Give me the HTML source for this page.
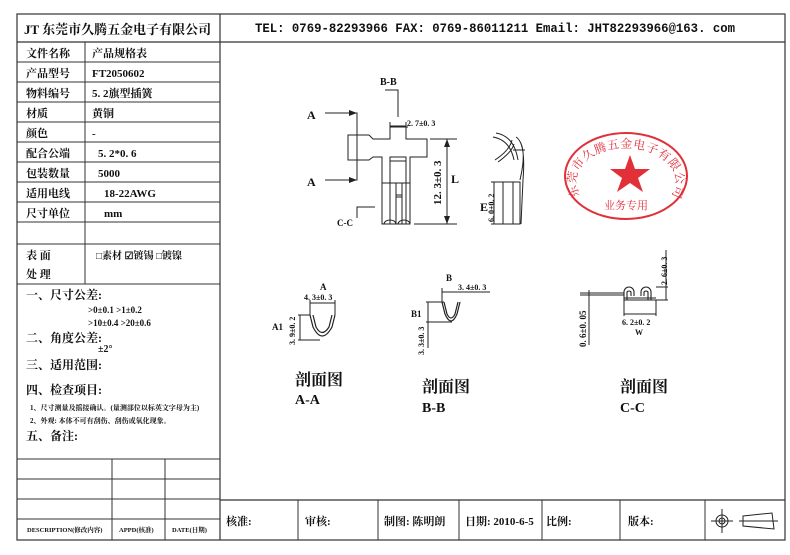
<!DOCTYPE html>
<html><head><meta charset="utf-8"><style>
html,body{margin:0;padding:0;background:#fff;}
svg{display:block;}
text{font-family:"Liberation Serif","Noto Serif CJK SC",serif;font-weight:bold;fill:#111;}
</style></head><body>
<svg width="790" height="555" viewBox="0 0 790 555" xmlns="http://www.w3.org/2000/svg">
<g stroke="#333" fill="none" stroke-width="1.2">
<rect x="17" y="14" width="768" height="526"/>
<line x1="17" y1="42" x2="785" y2="42"/>
<line x1="220" y1="14" x2="220" y2="540"/>
<line x1="220" y1="500" x2="785" y2="500"/>
<g stroke-width="1">
<line x1="17" y1="62" x2="220" y2="62"/><line x1="17" y1="82" x2="220" y2="82"/>
<line x1="17" y1="102" x2="220" y2="102"/><line x1="17" y1="122" x2="220" y2="122"/>
<line x1="17" y1="142" x2="220" y2="142"/><line x1="17" y1="162" x2="220" y2="162"/>
<line x1="17" y1="182" x2="220" y2="182"/><line x1="17" y1="202" x2="220" y2="202"/>
<line x1="17" y1="222" x2="220" y2="222"/><line x1="17" y1="244" x2="220" y2="244"/>
<line x1="17" y1="284" x2="220" y2="284"/>
<line x1="85" y1="42" x2="85" y2="284"/>
<line x1="17" y1="459" x2="220" y2="459"/><line x1="17" y1="479" x2="220" y2="479"/>
<line x1="17" y1="499" x2="220" y2="499"/><line x1="17" y1="519" x2="220" y2="519"/>
<line x1="112" y1="459" x2="112" y2="540"/><line x1="165" y1="459" x2="165" y2="540"/>
<line x1="298" y1="500" x2="298" y2="540"/><line x1="378" y1="500" x2="378" y2="540"/>
<line x1="459" y1="500" x2="459" y2="540"/><line x1="542" y1="500" x2="542" y2="540"/>
<line x1="620" y1="500" x2="620" y2="540"/><line x1="705" y1="500" x2="705" y2="540"/>
</g>
</g>
<!-- header -->
<text x="24" y="34" font-size="13">JT 东莞市久腾五金电子有限公司</text>
<text x="255" y="32" font-size="13" textLength="480" lengthAdjust="spacingAndGlyphs" style="font-family:'Liberation Mono','Noto Serif CJK SC',monospace">TEL: 0769-82293966   FAX: 0769-86011211  Email: JHT82293966@163. com</text>
<!-- left table -->
<g font-size="11">
<text x="26" y="57">文件名称</text><text x="92" y="57">产品规格表</text>
<text x="26" y="77">产品型号</text><text x="92" y="77">FT2050602</text>
<text x="26" y="97">物料编号</text><text x="92" y="97">5. 2旗型插簧</text>
<text x="26" y="117">材质</text><text x="92" y="117">黄铜</text>
<text x="26" y="137">颜色</text><text x="92" y="137">-</text>
<text x="26" y="157">配合公端</text><text x="98" y="157">5. 2*0. 6</text>
<text x="26" y="177">包装数量</text><text x="98" y="177">5000</text>
<text x="26" y="197">适用电线</text><text x="104" y="197">18-22AWG</text>
<text x="26" y="217">尺寸单位</text><text x="104" y="217">mm</text>
<text x="26" y="259">表 面</text><text x="26" y="278">处 理</text>
<text x="96" y="259" font-size="10">□素材  ☑镀锡  □镀镍</text>
<text x="26" y="299" font-size="12">一、尺寸公差:</text>
<text x="88" y="313" font-size="9">&gt;0±0.1     &gt;1±0.2</text>
<text x="88" y="326" font-size="9">&gt;10±0.4    &gt;20±0.6</text>
<text x="26" y="342" font-size="12">二、角度公差:</text>
<text x="98" y="352" font-size="10">±2°</text>
<text x="26" y="369" font-size="12">三、适用范围:</text>
<text x="26" y="394" font-size="12">四、检查项目:</text>
<text x="30" y="410" font-size="7">1、尺寸测量及摇接确认。(量测部位以标英文字母为主)</text>
<text x="30" y="423" font-size="7">2、外观: 本体不可有刮伤、刮伤或氧化现象。</text>
<text x="26" y="440" font-size="12">五、备注:</text>
<text x="27" y="532" font-size="6.5">DESCRIPTION(修改内容)</text>
<text x="119" y="532" font-size="6.5">APPD(核准)</text>
<text x="172" y="532" font-size="6.5">DATE(日期)</text>
</g>
<!-- bottom row -->
<g font-size="11">
<text x="226" y="525">核准:</text><text x="305" y="525">审核:</text>
<text x="384" y="525">制图: 陈明朗</text><text x="465" y="525">日期: 2010-6-5</text>
<text x="546" y="525">比例:</text><text x="628" y="525">版本:</text>
</g>
<g stroke="#222" fill="none" stroke-width="1">
<circle cx="722" cy="521" r="6"/><circle cx="722" cy="521" r="3"/>
<line x1="711" y1="521" x2="733" y2="521"/><line x1="722" y1="509" x2="722" y2="533"/>
<path d="M743 516 L772 513 L774 529 L743 526 Z"/><line x1="739" y1="521" x2="778" y2="521"/>
</g>
<!-- main drawing -->
<g stroke="#222" fill="none" stroke-width="1">
<path d="M348 135 H369 L373 139 H390 V126 H406 V139 H427 V157 H410 V224 H382 V157 H373 L369 160 H348 Z"/>
<rect x="390" y="157" width="16" height="4"/>
<line x1="390" y1="161" x2="390" y2="224"/><line x1="406" y1="161" x2="406" y2="224"/>
<line x1="382" y1="183" x2="410" y2="183"/>
<line x1="396" y1="183" x2="396" y2="224"/><line x1="402" y1="183" x2="402" y2="224"/>
<line x1="396" y1="195" x2="402" y2="195"/><line x1="396" y1="197" x2="402" y2="197"/>
<path d="M384 224 A6 4 0 0 1 396 224"/><path d="M398 224 A6 4 0 0 1 410 224"/>
<polyline points="385,90 398,90 398,117"/>
<line x1="390" y1="122" x2="390" y2="128"/><line x1="406" y1="122" x2="406" y2="128"/>
<line x1="390" y1="127" x2="408" y2="127"/>
<polyline points="325,113 357,113 357,180 325,180"/>
<line x1="430" y1="139" x2="457" y2="139"/><line x1="414" y1="224" x2="457" y2="224"/>
<line x1="447" y1="139" x2="447" y2="224"/>
<polyline points="357,218 357,207 375,207"/>
<!-- side view -->
<path d="M493 137 Q510 140 514 160 M496 133 Q514 136 518 160 M495 160 Q510 150 512 140 M498 162 Q512 152 514 144"/>
<path d="M516 137 Q526 143 523 180 L521 224 M519 140 Q527 150 520 180"/>
<path d="M513 150 L525 150"/>
<rect x="503" y="182" width="17" height="42"/>
<line x1="513" y1="182" x2="513" y2="224"/>
<line x1="494" y1="182" x2="494" y2="224"/><line x1="491" y1="182" x2="503" y2="182"/><line x1="491" y1="224" x2="503" y2="224"/>
<!-- A-A -->
<path d="M310 315 L313 327 Q322 345 332 327 L335 315 M313 315 L316 327 Q322 338 329 327 L332 315" stroke-width="1.2"/>
<line x1="310" y1="300" x2="310" y2="315"/><line x1="335" y1="300" x2="335" y2="315"/>
<line x1="310" y1="303" x2="335" y2="303"/>
<line x1="298" y1="315" x2="310" y2="315"/><line x1="298" y1="340" x2="320" y2="340"/>
<line x1="300" y1="315" x2="300" y2="340"/>
<!-- B-B -->
<path d="M442 302 L445 314 Q451 328 457 314 L460 302 M444 302 L447 314 Q451 322 455 314 L458 302" stroke-width="1.2"/>
<line x1="442" y1="288" x2="442" y2="302"/><line x1="442" y1="292" x2="490" y2="292"/>
<line x1="426" y1="302" x2="444" y2="302"/><line x1="426" y1="322" x2="452" y2="322"/>
<line x1="428" y1="302" x2="428" y2="348"/>
<!-- C-C -->
<path d="M624 300 V292 A5 5 0 0 1 634 292 V296 M627 300 V292 A2.5 2.5 0 0 1 631 292 V296 M641 296 V292 A5 5 0 0 1 651 292 V300 M644 296 V292 A2.5 2.5 0 0 1 648 292 V300" stroke-width="1.1"/>
<line x1="624" y1="300" x2="656" y2="300"/><line x1="624" y1="298" x2="656" y2="298"/>
<line x1="580" y1="293" x2="624" y2="293"/><line x1="580" y1="295" x2="624" y2="295"/>
<line x1="589" y1="290" x2="589" y2="345"/>
<line x1="624" y1="300" x2="624" y2="316"/><line x1="656" y1="300" x2="656" y2="316"/>
<line x1="624" y1="314" x2="656" y2="314"/>
<line x1="656" y1="287" x2="668" y2="287"/><line x1="656" y1="300" x2="668" y2="300"/>
<line x1="666" y1="250" x2="666" y2="300"/>
</g>
<g fill="#222">
<polygon points="357,113 349,110 349,116"/><polygon points="357,180 349,177 349,183"/>
<polygon points="447,139 444,147 450,147"/><polygon points="447,224 444,216 450,216"/>
</g>
<g font-size="10">
<text x="380" y="85">B-B</text>
<text x="307" y="119" font-size="12">A</text><text x="307" y="186" font-size="12">A</text>
<text x="407" y="126" font-size="8">2. 7±0. 3</text>
<text x="451" y="183" font-size="12">L</text>
<text x="337" y="226" font-size="9">C-C</text>
<text x="480" y="211" font-size="12">E</text>
<text transform="translate(441,205) rotate(-90)" font-size="11">12. 3±0. 3</text>
<text transform="translate(494,222) rotate(-90)" font-size="8">6. 0±0. 2</text>
<text x="320" y="290" font-size="9">A</text><text x="304" y="300" font-size="8">4. 3±0. 3</text>
<text x="272" y="330" font-size="9">A1</text>
<text transform="translate(295,345) rotate(-90)" font-size="8">3. 9±0. 2</text>
<text x="446" y="281" font-size="9">B</text><text x="458" y="290" font-size="8">3. 4±0. 3</text>
<text x="411" y="317" font-size="9">B1</text>
<text transform="translate(424,355) rotate(-90)" font-size="8">3. 3±0. 3</text>
<text transform="translate(586,347) rotate(-90)" font-size="9">0. 6±0. 05</text>
<text transform="translate(667,285) rotate(-90)" font-size="8">2. 6±0. 3</text>
<text x="622" y="325" font-size="8">6. 2±0. 2</text><text x="635" y="335" font-size="8">W</text>
<text x="295" y="385" font-size="16">剖面图</text><text x="295" y="404" font-size="14">A-A</text>
<text x="422" y="392" font-size="16">剖面图</text><text x="422" y="412" font-size="14">B-B</text>
<text x="620" y="392" font-size="16">剖面图</text><text x="620" y="412" font-size="14">C-C</text>
</g>
<!-- stamp -->
<g>
<ellipse cx="626" cy="176" rx="61" ry="43" fill="none" stroke="#e0303a" stroke-width="2"/>
<polygon fill="#e23038" points="630,155 635,169 650,169 638,178 643,192 630,183 617,192 622,178 610,169 625,169"/>
<path id="arc" d="M582 198 A50 34 0 1 1 670 198" fill="none"/>
<text font-size="12" letter-spacing="0.5" style="fill:#e0303a;font-weight:normal"><textPath href="#arc" startOffset="3">东莞市久腾五金电子有限公司</textPath></text>
<text x="604" y="209" font-size="11" style="fill:#e0303a;font-weight:normal">业务专用</text>
</g>
</svg>
</body></html>
